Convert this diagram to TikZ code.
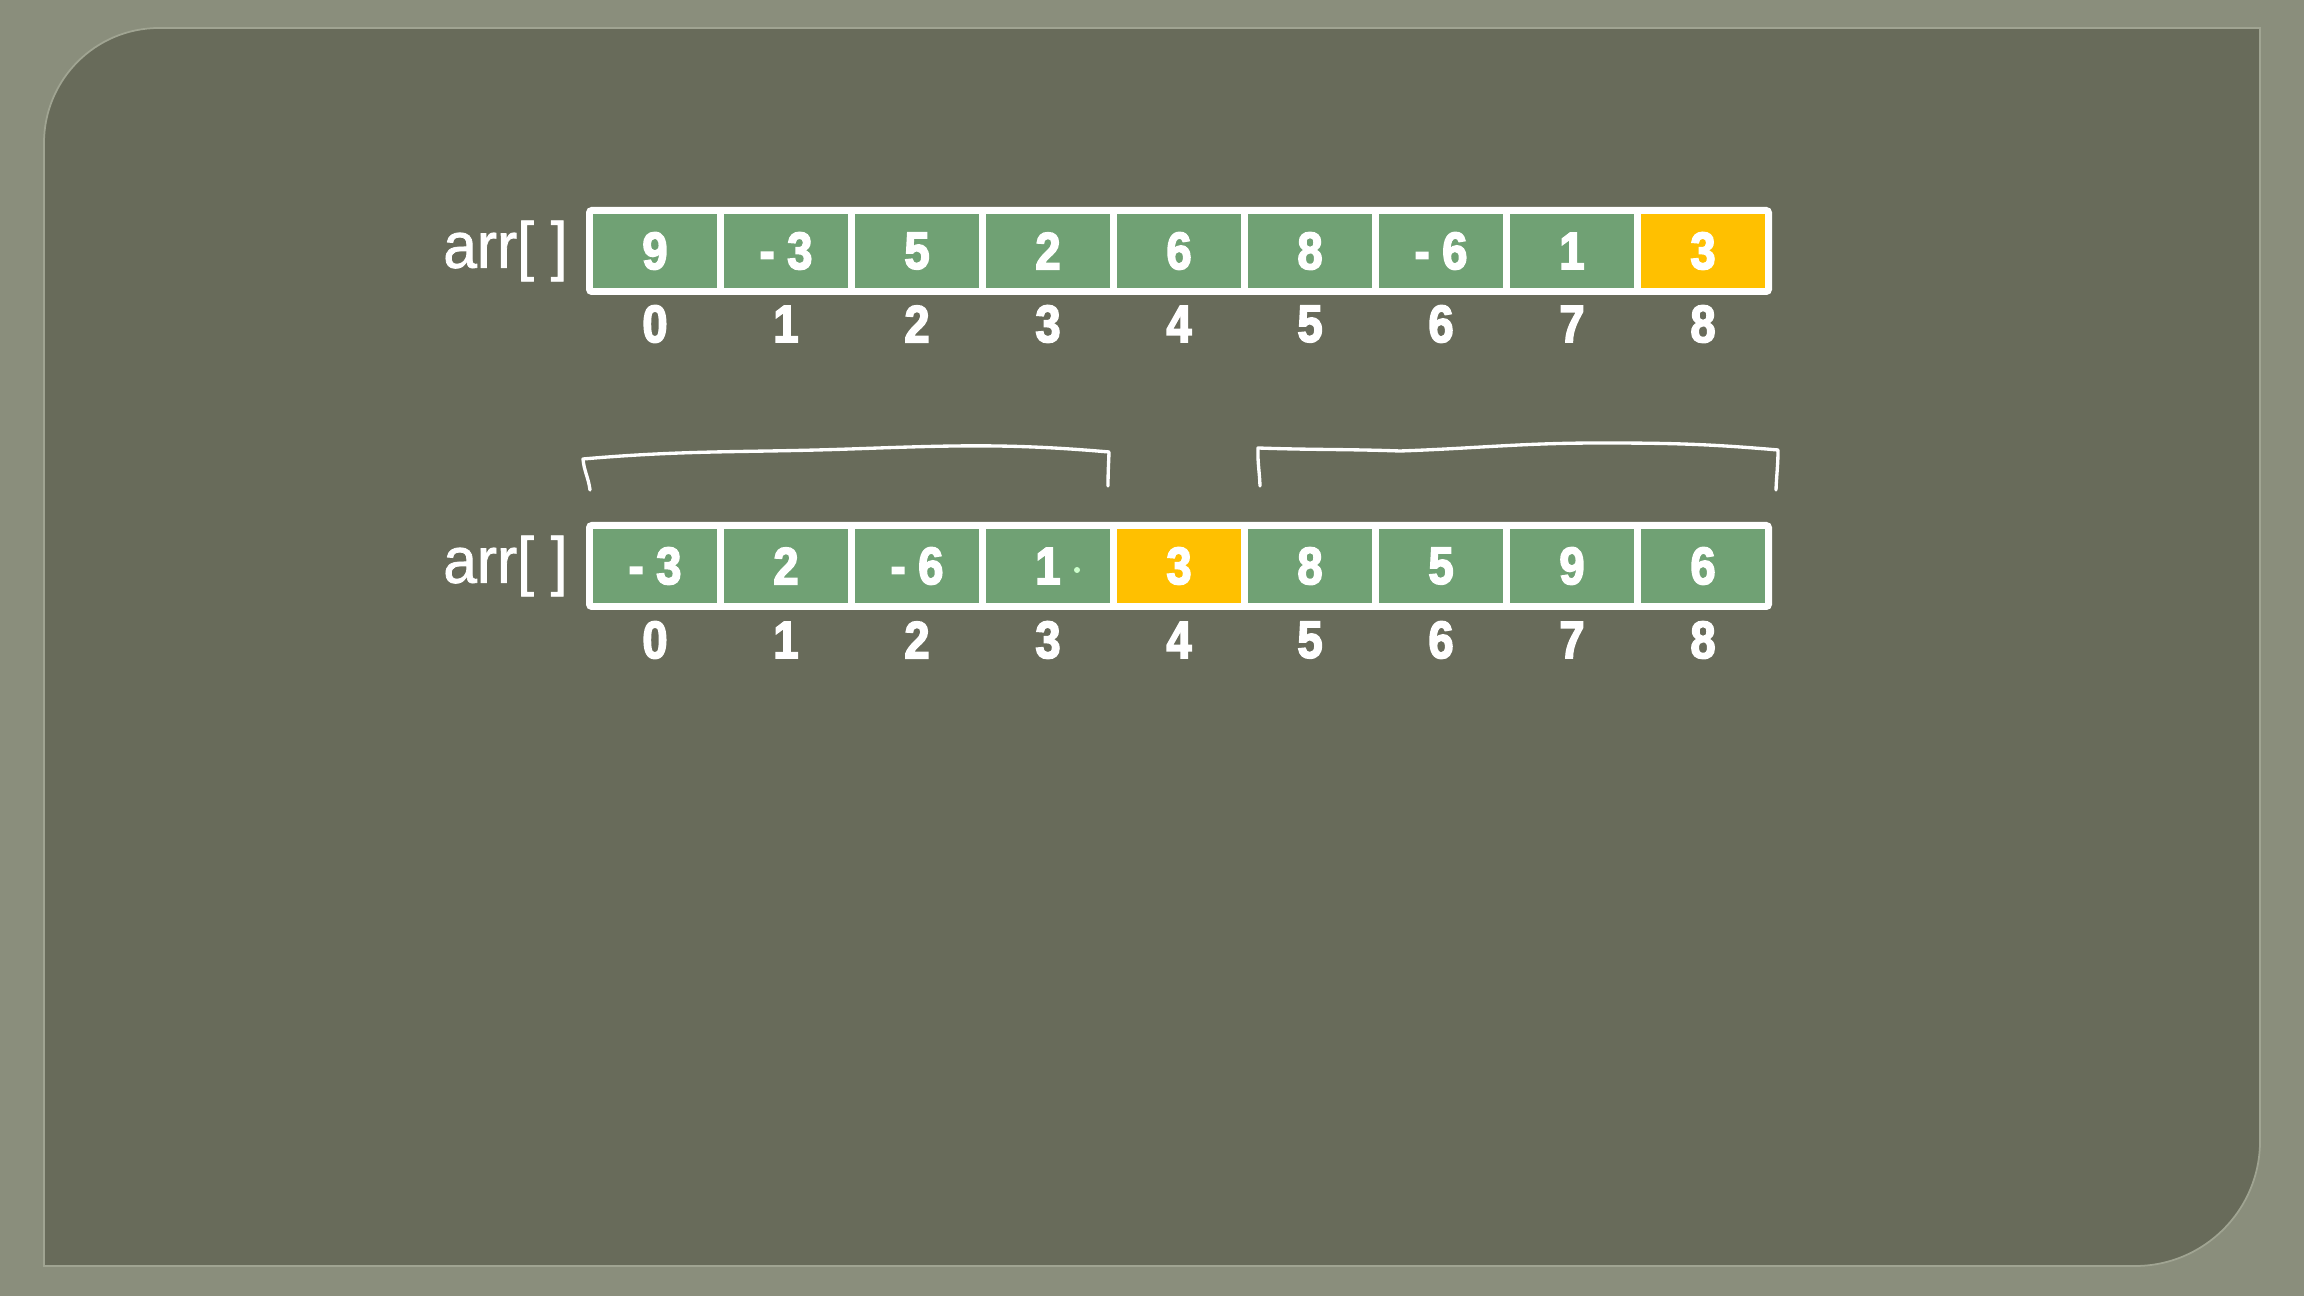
\documentclass[tikz,border=0pt]{standalone}
\usepackage{fontspec}
\setmainfont{Liberation Sans}
\newfontfamily\digitfont[FakeBold=3,FakeStretch=0.86]{Liberation Sans Bold}
\newfontfamily\labelfont[FakeBold=1.2,FakeStretch=0.93]{Liberation Sans}
\usetikzlibrary{positioning}
\definecolor{outerbg}{RGB}{138,142,124}
\definecolor{panelbg}{RGB}{104,107,90}
\definecolor{paneledge}{RGB}{160,164,146}
\definecolor{cellgreen}{RGB}{112,161,116}
\definecolor{cellyellow}{RGB}{255,192,0}
\tikzset{
    cell/.style={minimum width=1.24cm,minimum height=0.74cm,inner sep=0pt,fill=cellgreen,text=white,font=\digitfont\fontsize{15}{18}\selectfont},
    pivot/.style={cell,fill=cellyellow},
    idx/.style={text=white,inner sep=0pt,font=\digitfont\fontsize{15}{18}\selectfont},
    arrlabel/.style={text=white,inner sep=0pt,font=\labelfont\fontsize{18.5}{22}\selectfont},
    arrframe/.style={fill=white,rounded corners=1.5pt,minimum width=11.86cm,minimum height=0.88cm,inner sep=0pt},
    handbrace/.style={white,line width=0.95pt,line cap=round,line join=round}
}

\begin{document}
\begin{tikzpicture}
            % background and panel
            \fill[outerbg] (0,0) rectangle (23.04,12.96);
            \fill[panelbg,draw=paneledge,line width=0.5pt] (0.44,0.30) -- (21.35,0.30) arc[start angle=-90,end angle=0,radius=1.25]
                -- (22.60,12.68) -- (1.59,12.68) arc[start angle=90,end angle=180,radius=1.15] -- cycle;

            % first array
            \node[arrframe] (topframe) at (11.79,10.45) {};
            \node[arrlabel,left=0.17cm of topframe] (toplabel) {arr[ ]};
            \foreach \v/\s [count=\i from 0] in {9/cell,- 3/cell,5/cell,2/cell,6/cell,8/cell,- 6/cell,1/cell,3/pivot}
                \node[\s] (t\i) at (6.55+1.31*\i,10.45) {\v};

            % second array
            \node[arrframe] (botframe) at (11.79,7.30) {};
            \node[arrlabel,left=0.17cm of botframe] (botlabel) {arr[ ]};
            \foreach \v/\s [count=\i from 0] in {- 3/cell,2/cell,- 6/cell,1/cell,3/pivot,8/cell,5/cell,9/cell,6/cell}
                \node[\s] (b\i) at (6.55+1.31*\i,7.30) {\v};
            \fill[green!20!white] (10.77,7.26) circle (0.03);

            % indices
            \foreach \i in {0,...,8}{
                \node[idx] (ti\i) at ([yshift=-0.73cm]t\i) {\i};
                \node[idx] (bi\i) at ([yshift=-0.74cm]b\i) {\i};
            }

            % hand drawn brackets
            \draw[handbrace] (5.90,8.06) to[out=97,in=-85] (5.83,8.37) to[out=5,in=182] (8.50,8.47) to[out=2,in=175] (11.09,8.44) to[out=-92,in=90] (11.08,8.10);
            \draw[handbrace] (12.60,8.10) to[out=92,in=-92] (12.58,8.48) to[out=-2,in=178] (14.00,8.45) to[out=2,in=180] (16.00,8.53) to[out=0,in=175] (17.78,8.46) to[out=-90,in=88] (17.76,8.06);
\end{tikzpicture}
\end{document}
